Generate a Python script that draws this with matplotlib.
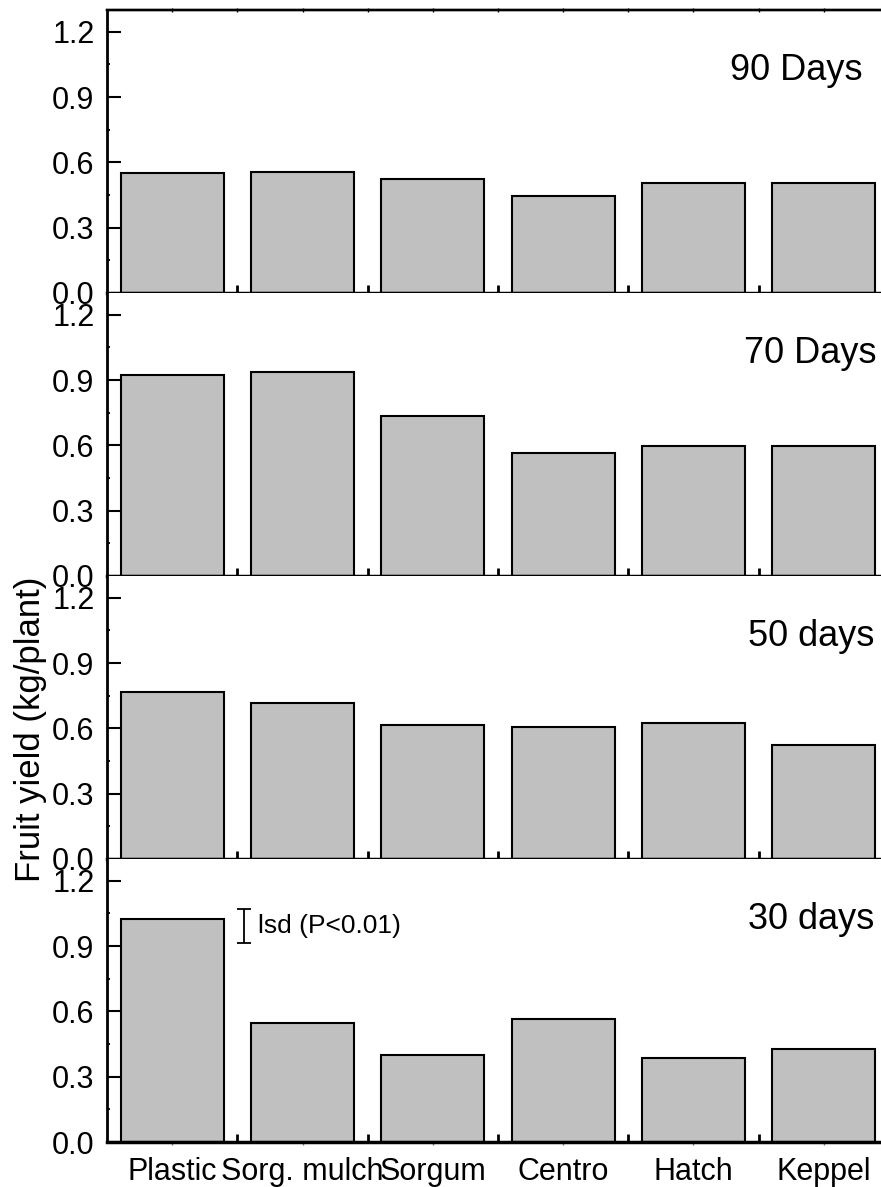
import matplotlib
matplotlib.use("Agg")
import matplotlib.pyplot as plt
from matplotlib.ticker import FixedLocator
import numpy as np

plt.rcParams['font.family'] = ['Liberation Sans', 'DejaVu Sans']

categories = ["Plastic", "Sorg. mulch", "Sorgum", "Centro", "Hatch", "Keppel"]
panel_titles = ["90 Days", "70 Days", "50 days", "30 days"]
yield_90 = [0.55, 0.555, 0.525, 0.445, 0.505, 0.505]
yield_70 = [0.925, 0.935, 0.735, 0.565, 0.595, 0.595]
yield_50 = [0.765, 0.715, 0.615, 0.605, 0.625, 0.525]
yield_30 = [1.025, 0.545, 0.40, 0.565, 0.385, 0.425]
series = [yield_90, yield_70, yield_50, yield_30]
yticks = [0.0, 0.3, 0.6, 0.9, 1.2]
ytick_labels = ["0.0", "0.3", "0.6", "0.9", "1.2"]
lsd_x = 0.554
lsd_center = 0.994
lsd_half = 0.078
lsd_label = "lsd (P<0.01)"
ylabel = "Fruit yield (kg/plant)"

W, H = 881, 1187
fig = plt.figure(figsize=(W / 100, H / 100), dpi=100)

left_px, right_px = 107, 889
top_px, panel_h = 10, 283
title_right_px = [862, 876, 874, 874]

x = np.arange(len(categories))
axes = []
for i, vals in enumerate(series):
    bottom = 1 - (top_px + panel_h * (i + 1)) / H
    ax = fig.add_axes([left_px / W, bottom, (right_px - left_px) / W, panel_h / H])
    axes.append(ax)
    ax.bar(x, vals, width=0.79, color="#c0c0c0", edgecolor="black", linewidth=1.5, zorder=1)
    ax.set_xlim(-0.5, len(categories) - 0.5)
    ax.set_ylim(0, 1.3)
    ax.set_yticks(yticks)
    ax.set_yticklabels(ytick_labels)
    ax.yaxis.set_minor_locator(FixedLocator([0.15, 0.45, 0.75, 1.05]))
    ax.tick_params(axis='y', which='major', direction='in', length=10, width=1.5,
                   labelsize=22, pad=9)
    ax.tick_params(axis='y', which='minor', direction='in', length=2.5, width=1.3)
    ax.set_xticks(x)
    ax.xaxis.set_minor_locator(FixedLocator(x[:-1] + 0.5))
    ax.tick_params(axis='x', which='major', direction='out', length=2.5, width=1,
                   color="#777777", labelsize=22, pad=8)
    ax.tick_params(axis='x', which='minor', direction='in', length=6, width=2)
    if i < 3:
        ax.set_xticklabels([])
    else:
        ax.set_xticklabels(categories)
    ax.spines['right'].set_visible(False)
    ax.spines['left'].set_linewidth(2)
    ax.spines['bottom'].set_linewidth(2.5)
    if i == 0:
        ax.spines['top'].set_linewidth(1.7)
        sec = ax.secondary_xaxis('top')
        sec.set_xticks(list(x) + list(x[:-1] + 0.5))
        sec.set_xticklabels([])
        sec.tick_params(direction='inout', length=2.5, width=1)
        sec.spines['top'].set_linewidth(1.7)
    else:
        ax.spines['top'].set_visible(False)
    tx = (title_right_px[i] - left_px) / (right_px - left_px)
    ax.text(tx, 0.752, panel_titles[i], transform=ax.transAxes, ha='right',
            va='baseline', fontsize=26)

ax30 = axes[3]
ax30.errorbar([lsd_x], [lsd_center], yerr=[lsd_half], fmt='none', ecolor='black',
              elinewidth=1.3, capsize=5, capthick=1.3)
ax30.text(lsd_x + 0.107, lsd_center, lsd_label, ha='left', va='center', fontsize=19)

fig.text(47 / W, 1 - 729 / H, ylabel, rotation=90, ha='right', va='center', fontsize=25)

fig.savefig("out.png", dpi=100)
